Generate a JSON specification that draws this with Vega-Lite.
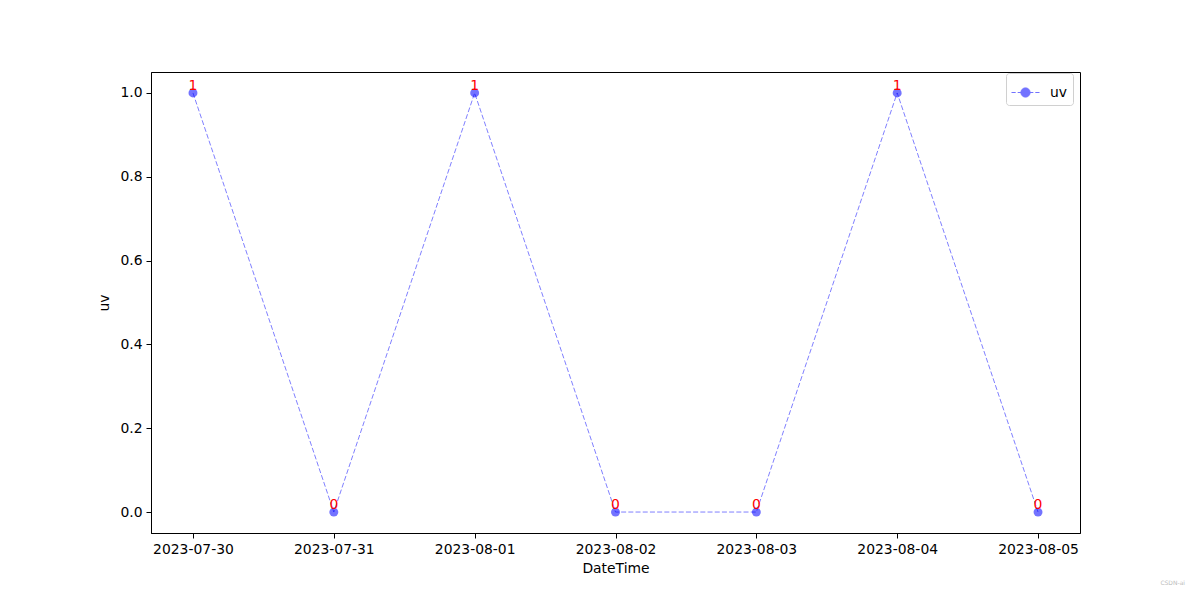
{
  "$schema": "https://vega.github.io/schema/vega-lite/v6.json",
  "width": 929,
  "height": 461,
  "padding": {"left": 151, "top": 72, "right": 120, "bottom": 67},
  "autosize": {"type": "none"},
  "background": "white",
  "title": {"text": "CSDN-ai", "orient": "bottom", "anchor": "end", "fontSize": 6, "color": "#bbbbbb", "fontWeight": "normal", "font": "DejaVu Sans", "dx": 105, "offset": 4},
  "config": {
    "view": {"stroke": "black", "strokeWidth": 1},
    "font": "DejaVu Sans",
    "axis": {
      "grid": false,
      "domainColor": "black",
      "tickColor": "black",
      "tickSize": 5,
      "labelFontSize": 13.9,
      "labelColor": "black",
      "labelPadding": 4,
      "titleFontSize": 13.9,
      "titleFontWeight": "normal",
      "titleColor": "black",
      "labelFont": "DejaVu Sans",
      "titleFont": "DejaVu Sans"
    }
  },
  "data": {
    "values": [
      {"DateTime": "2023-07-30", "uv": 1},
      {"DateTime": "2023-07-31", "uv": 0},
      {"DateTime": "2023-08-01", "uv": 1},
      {"DateTime": "2023-08-02", "uv": 0},
      {"DateTime": "2023-08-03", "uv": 0},
      {"DateTime": "2023-08-04", "uv": 1},
      {"DateTime": "2023-08-05", "uv": 0}
    ]
  },
  "encoding": {
    "x": {
      "field": "DateTime",
      "type": "ordinal",
      "scale": {"type": "point", "padding": 0.298},
      "axis": {"labelAngle": 0, "title": "DateTime", "titlePadding": 6}
    },
    "y": {
      "field": "uv",
      "type": "quantitative",
      "scale": {"domain": [-0.05, 1.05], "nice": false, "zero": false},
      "axis": {"values": [0, 0.2, 0.4, 0.6, 0.8, 1.0], "format": ".1f", "title": "uv", "titlePadding": 8}
    }
  },
  "layer": [
    {
      "mark": {"type": "line", "color": "#0000ff", "opacity": 0.5, "strokeWidth": 1, "strokeDash": [5, 2.2]}
    },
    {
      "mark": {"type": "point", "shape": "circle", "filled": true, "opacity": 0.55, "size": 80},
      "encoding": {
        "color": {
          "datum": "uv",
          "type": "nominal",
          "scale": {"domain": ["uv"], "range": ["#0000ff"]},
          "legend": {
            "title": null,
            "orient": "none",
            "legendX": 855,
            "legendY": 1,
            "strokeColor": "#d0d0d0",
            "fillColor": "white",
            "cornerRadius": 3,
            "padding": 5,
            "labelFontSize": 13.9,
            "labelColor": "black",
            "labelFont": "DejaVu Sans",
            "symbolType": "M-1,0H-0.7M-0.56,0H-0.3M0.3,0H0.56M0.7,0H1M0.33,0A0.33,0.33 0 1 1 -0.33,0A0.33,0.33 0 1 1 0.33,0Z",
            "symbolSize": 784,
            "symbolOpacity": 0.55,
            "symbolStrokeColor": "#0000ff",
            "symbolFillColor": "#0000ff",
            "symbolStrokeWidth": 1,
            "labelOffset": 10
          }
        }
      }
    },
    {
      "mark": {"type": "text", "color": "red", "fontSize": 13.9, "baseline": "alphabetic", "align": "center", "dy": -3, "font": "DejaVu Sans"},
      "encoding": {"text": {"field": "uv", "type": "quantitative"}}
    }
  ]
}
